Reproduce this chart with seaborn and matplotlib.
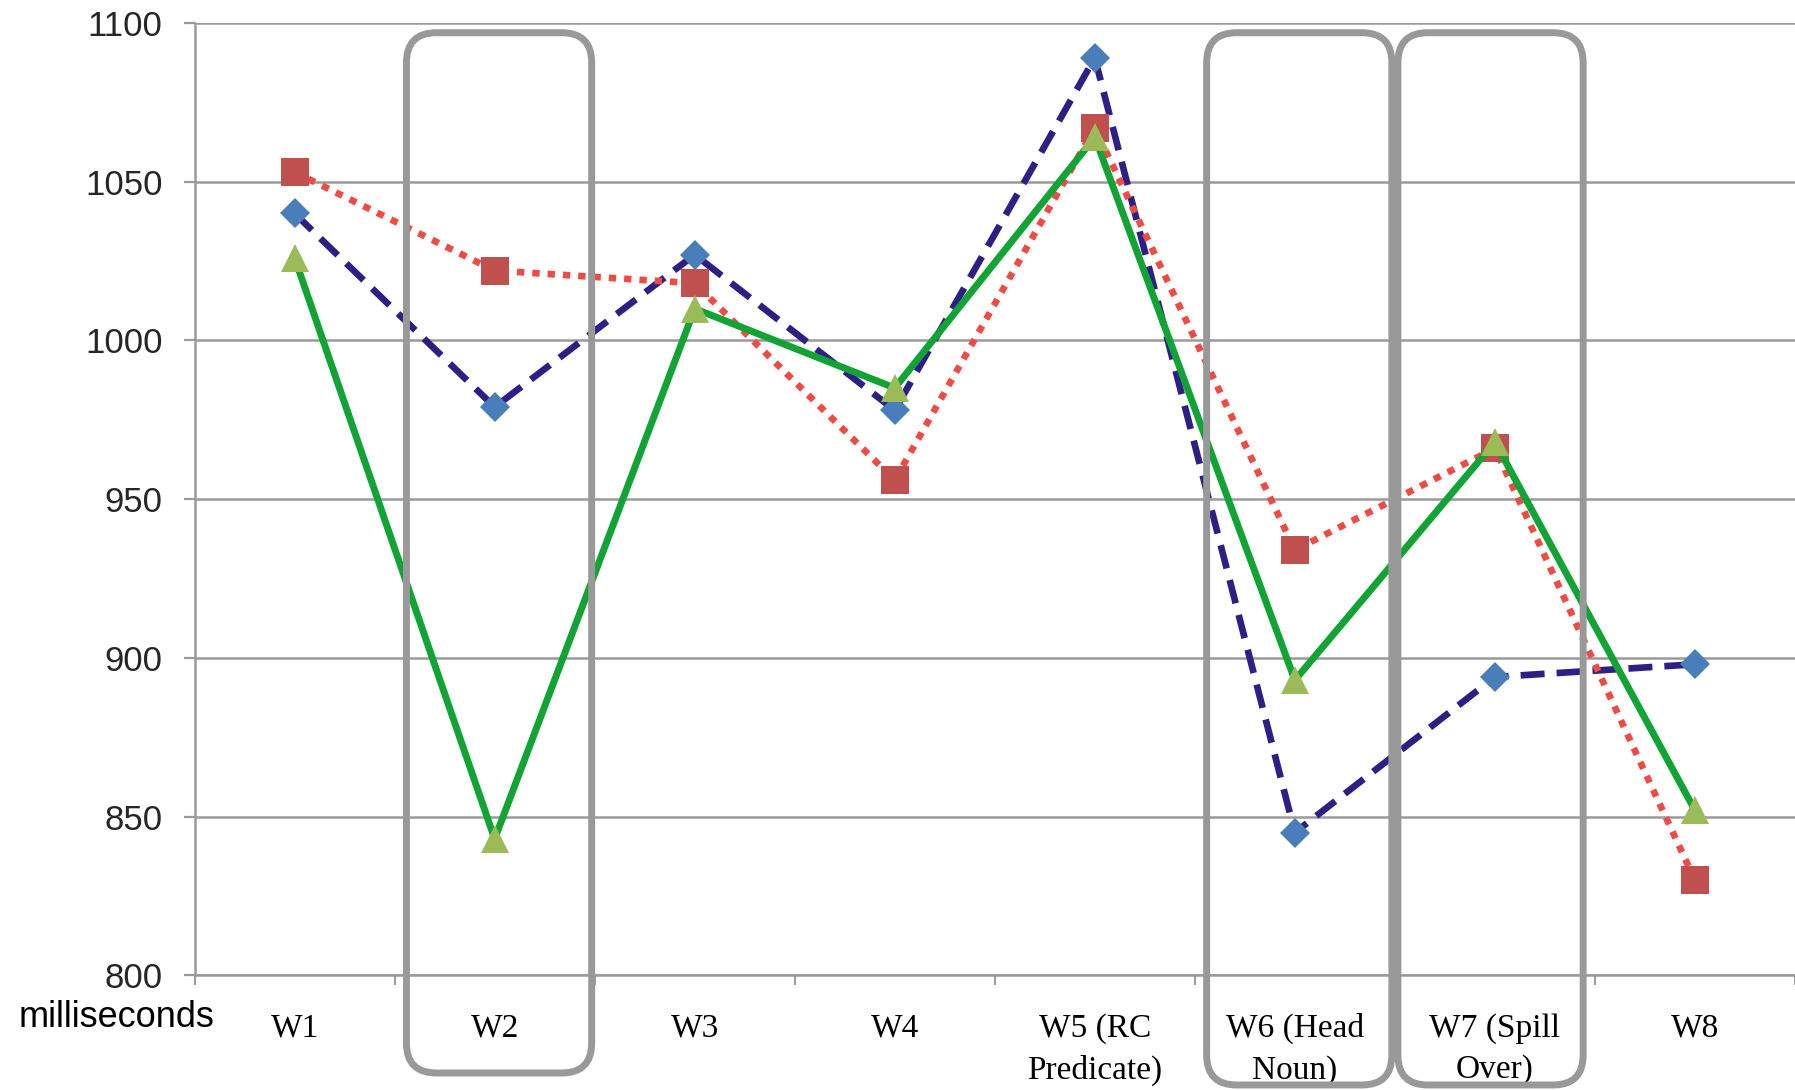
import numpy as np
import pandas as pd
import matplotlib
matplotlib.use('Agg')
import matplotlib.pyplot as plt
import seaborn as sns
from matplotlib.patches import FancyBboxPatch

## data
words = ['W1', 'W2', 'W3', 'W4', 'W5 (RC\nPredicate)', 'W6 (Head\nNoun)',
         'W7 (Spill\nOver)', 'W8']
series_blue = [1040, 979, 1027, 978, 1089, 845, 894, 898]
series_red = [1053, 1022, 1018, 956, 1067, 934, 966, 830]
series_green = [1026, 843, 1010, 985, 1064, 893, 968, 852]
highlighted = ['W2', 'W6 (Head\nNoun)', 'W7 (Spill\nOver)']
yticks = [800, 850, 900, 950, 1000, 1050, 1100]

df = pd.DataFrame({'pos': np.arange(len(words)),
                   'blue': series_blue,
                   'red': series_red,
                   'green': series_green})

## style
sns.set_style('white')
plt.rcParams['font.family'] = ['Liberation Sans', 'DejaVu Sans']
GRID = '#9a9a9a'

fig = plt.figure(figsize=(17.95, 10.9), dpi=100)
ax = fig.add_axes([0.1084, 0.1051, 0.8916, 0.8739])

# lines, drawn series by series like the original spreadsheet chart
sns.lineplot(data=df, x='pos', y='blue', ax=ax, errorbar=None,
             color='#2E1F86', lw=4.8, linestyle=(0, (3.6, 1.8)),
             marker='D', markersize=15, markerfacecolor='#4A7EBB',
             markeredgecolor='#4A7EBB', markeredgewidth=0, zorder=3)
sns.lineplot(data=df, x='pos', y='red', ax=ax, errorbar=None,
             color='#EE4B45', lw=4.8, linestyle=(0, (1.1, 1.2)),
             marker='s', markersize=20, markerfacecolor='#C0504D',
             markeredgecolor='#C0504D', markeredgewidth=0, zorder=4)
sns.lineplot(data=df, x='pos', y='green', ax=ax, errorbar=None,
             color='#11A334', lw=5.0, linestyle='-',
             marker='^', markersize=20, markerfacecolor='#9BBB59',
             markeredgecolor='#9BBB59', markeredgewidth=0, zorder=5)

## axes
ax.set_xlim(-0.5, len(words) - 0.5)
ax.set_ylim(800, 1100)
ax.set_yticks(yticks)
ax.set_xticks(df['pos'], words)
ax.set_xticks(np.arange(-0.5, len(words)), minor=True)
ax.set_xlabel('')
ax.set_ylabel('')

ax.yaxis.grid(True, color=GRID, lw=1.8)
ax.xaxis.grid(False)
ax.set_axisbelow(True)
for side in ['top', 'right']:
    ax.spines[side].set_visible(False)
for side in ['left', 'bottom']:
    ax.spines[side].set_color(GRID)
    ax.spines[side].set_linewidth(1.8)

ax.tick_params(axis='y', which='major', direction='out', length=8, width=1.6,
               color=GRID, pad=15, labelsize=25, labelcolor='#262626', left=True)
ax.tick_params(axis='x', which='major', length=0, pad=27, labelsize=24,
               labelcolor='black')
ax.tick_params(axis='x', which='minor', direction='out', length=7, width=1.4,
               color=GRID, bottom=True)
for lab in ax.get_xticklabels():
    lab.set_family(['Liberation Serif', 'DejaVu Serif'])
    lab.set_linespacing(1.45)

fig.text(0.065, 0.0665, 'milliseconds', fontsize=26, color='black',
         ha='center', va='center')

## rounded highlight boxes round W2, W6, W7 (drawn in inches so corners stay round)
box_top = 0.970
box_bottoms = {'W2': 0.0156, 'W6 (Head\nNoun)': 0.0046, 'W7 (Spill\nOver)': 0.0046}
box_shift = {'W2': 0.022, 'W6 (Head\nNoun)': 0.022, 'W7 (Spill\nOver)': -0.022}
half_w = 0.463
fig_w, fig_h = fig.get_size_inches()
for w in highlighted:
    c = words.index(w) + box_shift[w]
    x0 = ax.transData.transform((c - half_w, 800))[0] / fig.dpi
    x1 = ax.transData.transform((c + half_w, 800))[0] / fig.dpi
    y0 = box_bottoms[w] * fig_h
    y1 = box_top * fig_h
    box = FancyBboxPatch((x0, y0), x1 - x0, y1 - y0,
                         boxstyle='round,pad=0,rounding_size=0.3',
                         transform=fig.dpi_scale_trans, fill=False,
                         ec='#999999', lw=5, zorder=10, clip_on=False)
    fig.add_artist(box)

fig.savefig('out.png', dpi=100, facecolor='white')
